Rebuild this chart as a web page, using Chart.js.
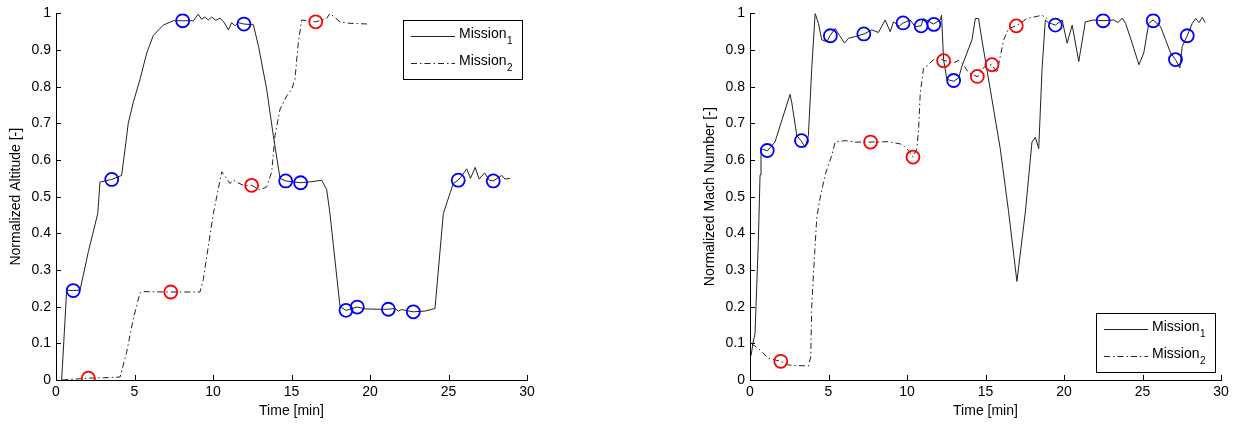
<!DOCTYPE html>
<html>
<head>
<meta charset="utf-8">
<script src="https://cdn.jsdelivr.net/npm/chart.js@4.4.1/dist/chart.umd.min.js"></script>
<style>
  body { margin: 0; background: #fff; }
  #wrap { position: relative; width: 1234px; height: 424px; }
  canvas { position: absolute; top: 0; }
</style>
</head>
<body>
<div id="wrap">
  <canvas id="altChart" width="617" height="424" style="left:0"></canvas>
  <canvas id="machChart" width="617" height="424" style="left:617px"></canvas>
</div>
<script>
// axis ticks
const xTicks = [0, 5, 10, 15, 20, 25, 30];
const xTickLabels = ["0", "5", "10", "15", "20", "25", "30"];
const yTicks = [0, 0.1, 0.2, 0.3, 0.4, 0.5, 0.6, 0.7, 0.8, 0.9, 1];
const yTickLabels = ["0", "0.1", "0.2", "0.3", "0.4", "0.5", "0.6", "0.7", "0.8", "0.9", "1"];

// ALTITUDE - mission 1 (solid)
const altTime1 = [0.36, 0.68, 1.1, 1.53, 2.06, 2.66, 2.8, 3.55, 4.18, 4.4, 4.6, 4.92, 5.35, 5.78, 6.2, 6.83,
  7.47, 8.07, 8.75, 9.06, 9.27, 9.48, 9.7, 9.91, 10.19, 10.44, 10.7, 10.98, 11.19, 11.4, 11.61, 11.97,
  12.57, 12.9, 13.42, 13.84, 14.27, 14.63, 15.58, 16.3, 16.92, 17.24, 17.45, 18.09, 18.47, 19.19, 19.7,
  20.42, 21.17, 21.6, 21.8, 22.0, 22.76, 23.5, 24.14, 24.67, 25.3, 25.62, 25.9, 26.16, 26.4, 26.7, 26.95,
  27.3, 27.6, 27.85, 28.39, 28.6, 28.92];
const altValue1 = [0, 0.245, 0.244, 0.245, 0.35, 0.454, 0.54, 0.547, 0.558, 0.63, 0.7, 0.757, 0.82, 0.892, 0.94, 0.968,
  0.98, 0.98, 0.98, 0.998, 0.984, 0.99, 0.982, 0.99, 0.981, 0.987, 0.976, 0.955, 0.975, 0.966, 0.975, 0.971,
  0.969, 0.91, 0.793, 0.667, 0.55, 0.543, 0.538, 0.541, 0.545, 0.52, 0.454, 0.2, 0.19, 0.199, 0.194,
  0.193, 0.193, 0.195, 0.188, 0.192, 0.186, 0.188, 0.195, 0.454, 0.536, 0.545, 0.56, 0.576, 0.55, 0.58, 0.548,
  0.565, 0.545, 0.543, 0.558, 0.548, 0.55];
// ALTITUDE - mission 2 (dash-dot)
const altTime2 = [0.4, 2.06, 3.0, 4.08, 4.5, 4.92, 5.35, 5.56, 7.31, 9.17, 9.38, 9.7, 10.02, 10.34, 10.56, 10.87,
  11.08, 11.3, 11.5, 11.93, 12.46, 12.99, 13.42, 13.74, 13.95, 14.27, 14.7, 15.01, 15.22, 15.43, 15.65,
  16.54, 17.24, 17.45, 18.09, 18.73, 19.89];
const altValue2 = [0, 0.005, 0.006, 0.008, 0.076, 0.166, 0.238, 0.241, 0.24, 0.24, 0.274, 0.364, 0.454, 0.522, 0.568, 0.55,
  0.536, 0.545, 0.54, 0.531, 0.531, 0.518, 0.527, 0.568, 0.667, 0.739, 0.775, 0.793, 0.82, 0.919, 0.982,
  0.977, 0.986, 1.0, 0.977, 0.973, 0.971];
// altitude markers
const altMarkTime1 = [1.1, 3.55, 8.07, 11.97, 14.63, 15.58, 18.47, 19.19, 21.17, 22.76, 25.62, 27.85];
const altMarkValue1 = [0.244, 0.547, 0.98, 0.971, 0.543, 0.538, 0.19, 0.199, 0.193, 0.186, 0.545, 0.543];
const altMarkTime2 = [2.06, 7.31, 12.46, 16.54];
const altMarkValue2 = [0.005, 0.24, 0.531, 0.977];

// MACH - mission 1 (solid)
const machTime1 = [0.07, 0.2, 0.32, 0.53, 0.64, 0.7, 1.1, 1.59, 2.55, 2.66, 2.98, 3.25, 3.51, 3.72, 3.93, 4.15,
  4.36, 4.57, 4.89, 5.1, 5.42, 5.7, 6.02, 6.27, 6.7, 7.27, 7.76, 8.18, 8.61, 8.93, 9.14, 9.5, 9.72, 10.2,
  10.52, 10.89, 11.05, 11.69, 12.12, 12.2, 12.33, 12.54, 12.97, 13.29, 13.5, 13.82, 14.14, 14.35, 14.56,
  14.77, 15.09, 15.94, 16.47, 17.0, 17.54, 17.96, 18.18, 18.39, 18.6, 18.81, 19.0, 19.45, 19.88, 20.2,
  20.52, 20.94, 21.36, 21.9, 22.49, 23.17, 23.45, 23.7, 23.92, 24.34, 24.77, 25.08, 25.4, 25.68, 26.15,
  26.47, 26.79, 27.1, 27.38, 27.53, 27.85, 28.17, 28.38, 28.6, 28.81, 29.0];
const machValue1 = [0.067, 0.103, 0.126, 0.378, 0.559, 0.631, 0.625, 0.649, 0.779, 0.757, 0.667, 0.653, 0.635, 0.667, 0.847, 1.0,
  0.973, 0.928, 0.923, 0.939, 0.959, 0.94, 0.919, 0.932, 0.937, 0.944, 0.955, 0.948, 0.982, 0.95, 0.977, 0.965, 0.973, 0.982,
  0.964, 0.966, 0.986, 0.971, 0.982, 0.995, 0.874, 0.82, 0.815, 0.824, 0.856, 0.892, 0.928, 0.986, 0.986,
  0.928, 0.847, 0.631, 0.459, 0.269, 0.459, 0.649, 0.662, 0.631, 0.847, 0.982, 0.975, 0.968, 0.982, 0.919,
  0.968, 0.869, 0.977, 0.982, 0.98, 0.982, 0.975, 0.987, 0.973, 0.919, 0.86, 0.892, 0.973, 0.982, 0.964,
  0.928, 0.892, 0.874, 0.851, 0.91, 0.939, 0.973, 0.986, 0.975, 0.989, 0.975];
// MACH - mission 2 (dash-dot)
const machTime2 = [0.11, 0.53, 1.17, 1.96, 2.44, 3.72, 3.87, 3.93, 4.04, 4.25, 4.46, 4.78, 5.21, 5.42, 6.06, 6.7,
  7.65, 8.82, 9.57, 9.78, 10.1, 10.38, 10.63, 10.74, 10.84, 11.05, 11.37, 11.69, 12.01, 12.33, 12.97, 13.3,
  13.6, 13.92, 14.5, 14.77, 15.09, 15.41, 15.73, 15.94, 16.16, 16.47, 16.96, 17.64, 18.07, 18.6, 18.92];
const machValue2 = [0.099, 0.086, 0.059, 0.051, 0.041, 0.038, 0.063, 0.198, 0.288, 0.441, 0.495, 0.559, 0.613, 0.649, 0.653, 0.649,
  0.649, 0.65, 0.644, 0.64, 0.626, 0.608, 0.631, 0.685, 0.78, 0.85, 0.86, 0.874, 0.878, 0.872, 0.865, 0.872,
  0.86, 0.838, 0.827, 0.847, 0.86, 0.86, 0.838, 0.883, 0.928, 0.959, 0.966, 0.986, 0.99, 0.995, 0.986];
// mach markers
const machMarkTime1 = [1.1, 3.28, 5.12, 7.25, 9.75, 10.9, 11.71, 12.97, 19.45, 22.49, 25.68, 27.1, 27.85];
const machMarkValue1 = [0.626, 0.653, 0.939, 0.944, 0.974, 0.966, 0.97, 0.817, 0.968, 0.98, 0.98, 0.874, 0.939];
const machMarkTime2 = [1.96, 7.68, 10.38, 12.33, 14.48, 15.41, 16.96];
const machMarkValue2 = [0.051, 0.649, 0.608, 0.871, 0.828, 0.86, 0.966];

const FONT = "'Liberation Sans', Arial, sans-serif";

function pts(xs, ys) {
  return xs.map((x, i) => ({ x: x, y: ys[i] }));
}

// MATLAB style ticks pointing inside the axes
const innerTicks = {
  id: "innerTicks",
  afterDraw(chart) {
    const ctx = chart.ctx;
    const xs = chart.scales.x;
    const ys = chart.scales.y;
    ctx.save();
    ctx.strokeStyle = "#000";
    ctx.lineWidth = 1;
    ctx.beginPath();
    xTicks.forEach((v) => {
      const px = Math.round(xs.getPixelForValue(v)) + 0.5;
      ctx.moveTo(px, ys.bottom);
      ctx.lineTo(px, ys.bottom - 5);
    });
    yTicks.forEach((v) => {
      const py = Math.round(ys.getPixelForValue(v)) + 0.5;
      ctx.moveTo(xs.left, py);
      ctx.lineTo(xs.left + 5, py);
    });
    ctx.stroke();
    ctx.restore();
  },
};

// boxed legend with subscripts
const boxLegend = {
  id: "boxLegend",
  afterDraw(chart, args, opts) {
    const ctx = chart.ctx;
    const a = chart.chartArea;
    const w = 119, h = 59;
    const x = Math.round(a.right - opts.right - w);
    const y = Math.round(opts.corner === "top" ? a.top + opts.top : a.bottom - opts.bottom - h);
    ctx.save();
    ctx.fillStyle = "#fff";
    ctx.fillRect(x, y, w, h);
    ctx.strokeStyle = "#000";
    ctx.lineWidth = 1;
    ctx.strokeRect(x + 0.5, y + 0.5, w, h);
    const items = chart.data.datasets.filter((d) => d.legendSub);
    items.forEach((d, i) => {
      const ly = Math.round(y + 16 + i * 27) + 0.5;
      ctx.strokeStyle = d.borderColor;
      ctx.lineWidth = 1;
      ctx.setLineDash(d.borderDash || []);
      ctx.beginPath();
      ctx.moveTo(x + 8, ly);
      ctx.lineTo(x + 52, ly);
      ctx.stroke();
      ctx.setLineDash([]);
      ctx.fillStyle = "#000";
      ctx.textBaseline = "middle";
      ctx.font = "14px " + FONT;
      ctx.fillText(d.label, x + 56, ly - 2);
      const tw = ctx.measureText(d.label).width;
      ctx.font = "10px " + FONT;
      ctx.fillText(d.legendSub, x + 56 + tw + 0.5, ly + 5);
    });
    ctx.restore();
  },
};

function makeChart(id, cfg) {
  const ctx = document.getElementById(id).getContext("2d");
  return new Chart(ctx, {
    type: "line",
    data: {
      datasets: [
        {
          label: "Mission",
          legendSub: "1",
          data: pts(cfg.t1, cfg.v1),
          borderColor: "#222",
          borderWidth: 1,
          pointRadius: 0,
          tension: 0,
          order: 2,
        },
        {
          label: "Mission",
          legendSub: "2",
          data: pts(cfg.t2, cfg.v2),
          borderColor: "#222",
          borderWidth: 1,
          borderDash: [6, 3, 1.5, 3],
          pointRadius: 0,
          tension: 0,
          order: 2,
        },
        {
          label: "marks 1",
          data: pts(cfg.mt1, cfg.mv1),
          showLine: false,
          pointRadius: 6.5,
          pointBorderWidth: 1.8,
          pointBorderColor: "#0000ff",
          pointBackgroundColor: "rgba(0,0,0,0)",
          order: 1,
        },
        {
          label: "marks 2",
          data: pts(cfg.mt2, cfg.mv2),
          showLine: false,
          pointRadius: 6.5,
          pointBorderWidth: 1.8,
          pointBorderColor: "#ff0000",
          pointBackgroundColor: "rgba(0,0,0,0)",
          order: 1,
        },
      ],
    },
    options: {
      responsive: false,
      maintainAspectRatio: false,
      animation: false,
      devicePixelRatio: 1,
      layout: { padding: cfg.padding },
      plugins: {
        legend: { display: false },
        tooltip: { enabled: false },
        boxLegend: cfg.legend,
      },
      scales: {
        x: {
          type: "linear",
          min: 0,
          max: 30,
          afterBuildTicks: (s) => { s.ticks = xTicks.map((v) => ({ value: v })); },
          afterFit: (s) => { s.height = 44; },
          grid: { display: false, drawTicks: false },
          border: { display: true, color: "#000", width: 1 },
          ticks: {
            padding: 4,
            color: "#000",
            font: { size: 14, family: FONT },
            maxRotation: 0,
            callback: (v, i) => xTickLabels[i],
          },
          title: {
            display: true,
            text: "Time [min]",
            color: "#000",
            font: { size: 14, family: FONT },
            padding: { top: 0, bottom: 4.5 },
          },
        },
        y: {
          type: "linear",
          min: 0,
          max: 1,
          afterBuildTicks: (s) => { s.ticks = yTicks.map((v) => ({ value: v })); },
          afterFit: (s) => { s.width = 56; },
          grid: { display: false, drawTicks: false },
          border: { display: true, color: "#000", width: 1 },
          ticks: {
            padding: 5,
            color: "#000",
            font: { size: 14, family: FONT },
            callback: (v, i) => yTickLabels[i],
          },
          title: {
            display: true,
            text: cfg.yTitle,
            color: "#000",
            font: { size: 14, family: FONT },
            padding: { top: 8, bottom: 0 },
          },
        },
      },
    },
    plugins: [innerTicks, boxLegend],
  });
}

// left: altitude
makeChart("altChart", {
  t1: altTime1, v1: altValue1, t2: altTime2, v2: altValue2,
  mt1: altMarkTime1, mv1: altMarkValue1, mt2: altMarkTime2, mv2: altMarkValue2,
  yTitle: "Normalized Altitude [-]",
  padding: { left: 0, top: 10, right: 90, bottom: 0 },
  legend: { corner: "top", top: 7, right: 5 },
});

// right: mach number
makeChart("machChart", {
  t1: machTime1, v1: machValue1, t2: machTime2, v2: machValue2,
  mt1: machMarkTime1, mv1: machMarkValue1, mt2: machMarkTime2, mv2: machMarkValue2,
  yTitle: "Normalized Mach Number [-]",
  padding: { left: 77, top: 10, right: 13, bottom: 0 },
  legend: { corner: "bottom", bottom: 8, right: 6 },
});
</script>
</body>
</html>
